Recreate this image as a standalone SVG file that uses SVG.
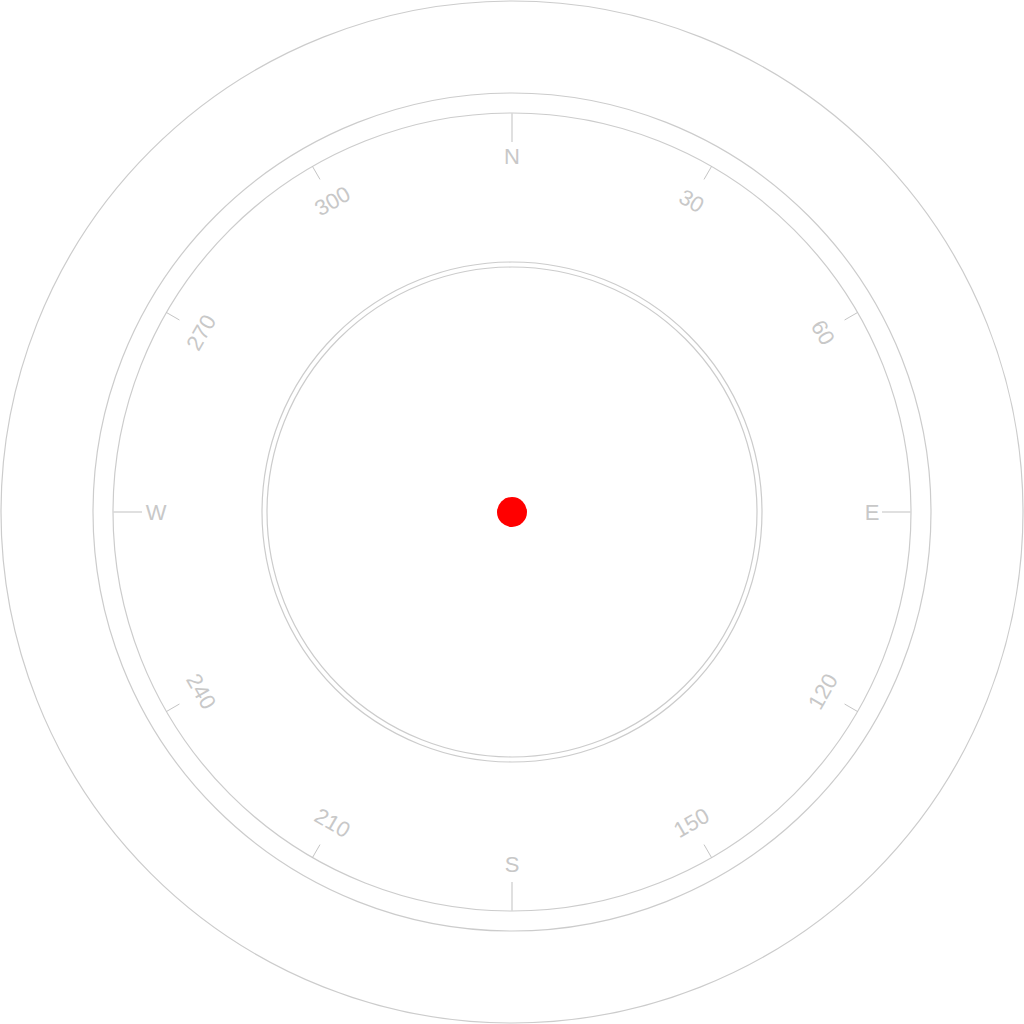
<svg xmlns="http://www.w3.org/2000/svg" width="1024" height="1024" viewBox="0 0 1024 1024">
<style>
.ring{fill:none;stroke:#cccccc;stroke-width:1.2}
.major{stroke:#d6d6d6;stroke-width:1.5}
.minor{stroke:#bdbdbd;stroke-width:0.8}
.lbl{font-family:"Liberation Sans",Arial,sans-serif;font-size:22px;fill:#c8c8c8;text-anchor:middle;dominant-baseline:central}
</style>
<rect width="1024" height="1024" fill="#fff"/>
<g id="dial" transform="translate(512,512)">
<circle class="ring" r="511"/>
<circle class="ring" r="419"/>
<circle class="ring" r="399"/>
<circle class="ring" r="250"/>
<circle class="ring" r="245"/>
<g id="ticks">
<line class="major" x1="0" y1="-399" x2="0" y2="-370"/>
<line class="major" x1="399" y1="0" x2="370" y2="0"/>
<line class="major" x1="0" y1="399" x2="0" y2="370"/>
<line class="major" x1="-399" y1="0" x2="-370" y2="0"/>
<line class="minor" x1="0" y1="-399" x2="0" y2="-384" transform="rotate(30)"/>
<line class="minor" x1="0" y1="-399" x2="0" y2="-384" transform="rotate(60)"/>
<line class="minor" x1="0" y1="-399" x2="0" y2="-384" transform="rotate(120)"/>
<line class="minor" x1="0" y1="-399" x2="0" y2="-384" transform="rotate(150)"/>
<line class="minor" x1="0" y1="-399" x2="0" y2="-384" transform="rotate(210)"/>
<line class="minor" x1="0" y1="-399" x2="0" y2="-384" transform="rotate(240)"/>
<line class="minor" x1="0" y1="-399" x2="0" y2="-384" transform="rotate(300)"/>
<line class="minor" x1="0" y1="-399" x2="0" y2="-384" transform="rotate(330)"/>
</g>
<g id="labels">
<text class="lbl" x="0" y="-356">N</text>
<text class="lbl" x="360" y="0">E</text>
<text class="lbl" x="0" y="352">S</text>
<text class="lbl" x="-356" y="0">W</text>
<text class="lbl" transform="rotate(30) translate(0,-359)">30</text>
<text class="lbl" transform="rotate(60) translate(0,-359)">60</text>
<text class="lbl" transform="rotate(120) translate(0,-359) rotate(180)">120</text>
<text class="lbl" transform="rotate(150) translate(0,-359) rotate(180)">150</text>
<text class="lbl" transform="rotate(210) translate(0,-359) rotate(180)">210</text>
<text class="lbl" transform="rotate(240) translate(0,-359) rotate(180)">240</text>
<text class="lbl" transform="rotate(300) translate(0,-359)">270</text>
<text class="lbl" transform="rotate(330) translate(0,-359)">300</text>
</g>
</g>
<g id="center"><circle cx="512" cy="512" r="15" fill="#ff0000"/></g>
</svg>
